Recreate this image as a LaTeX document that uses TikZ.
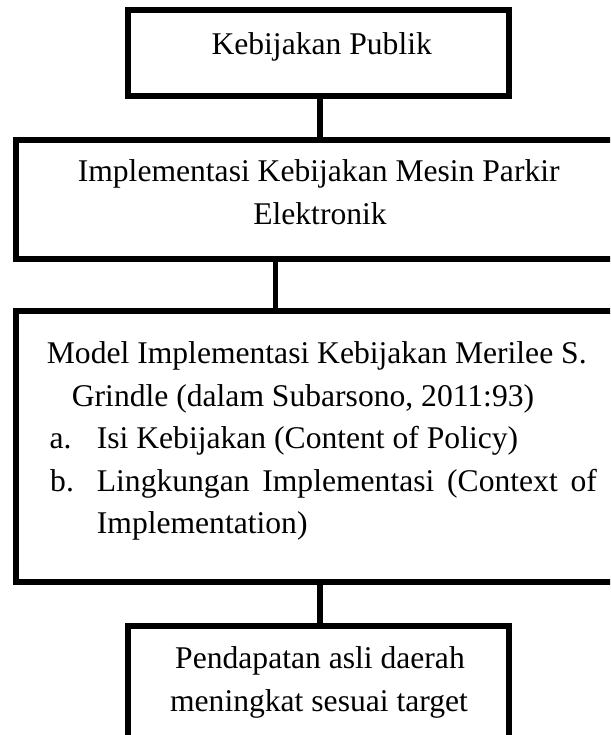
\documentclass[tikz,border=0pt]{standalone}
\usepackage{fontspec}
\setmainfont{Liberation Serif}
\begin{document}
\begin{tikzpicture}[x=1pt,y=-1pt,
  box/.style={draw=black,line width=6pt,fill=none,rectangle,inner sep=0pt},
  conn/.style={draw=black,line width=5.5pt},
  txt/.style={inner sep=0pt,font=\fontsize{31.6pt}{43pt}\selectfont}]
\useasboundingbox (0,0) rectangle (610,735);
\clip (0,0) rectangle (610,735);
% boxes
\node[box,minimum width=380.5pt,minimum height=86pt] (b1) at (318.25,53) {};
\node[box,minimum width=609pt,minimum height=119pt] (b2) at (320.5,199.5) {};
\node[box,minimum width=609pt,minimum height=271pt] (b3) at (320.5,446.5) {};
\node[box,minimum width=380.5pt,minimum height=124pt] (b4) at (318.25,688) {};
% connectors
\draw[conn] ([xshift=1.75pt]b1.south) -- ([xshift=1.75pt]b1.south |- b2.north);
\draw[conn] ([xshift=-45pt]b2.south) -- ([xshift=-45pt]b2.south |- b3.north);
\draw[conn] ([xshift=-0.5pt]b3.south) -- ([xshift=-0.5pt]b3.south |- b4.north);
% texts
\node[txt,anchor=base] (t1) at (321.7,55) {Kebijakan Publik};
\node[txt,anchor=base] (t2a) at (318.7,181.7) {Implementasi Kebijakan Mesin Parkir};
\node[txt,anchor=base] (t2b) at (320,225) {Elektronik};
\node[txt,anchor=base west] (t3a) at (46.7,363.5) {Model Implementasi Kebijakan Merilee S.};
\node[txt,anchor=base west] (t3b) at (71.7,406) {Grindle (dalam Subarsono, 2011:93)};
\node[txt,anchor=base west] (la) at (49.3,448.5) {a.};
\node[txt,anchor=base west] (t3c) at (96.7,448.5) {Isi Kebijakan (Content of Policy)};
\node[txt,anchor=base west] (lb) at (50,491) {b.};
\node[txt,anchor=base west] (t3d) at (96.7,491) {\makebox[500pt][s]{Lingkungan Implementasi (Context of}};
\node[txt,anchor=base west] (t3e) at (96.7,533.5) {Implementation)};
\node[txt,anchor=base] (t4a) at (320,668) {Pendapatan asli daerah};
\node[txt,anchor=base] (t4b) at (319,711) {meningkat sesuai target};
\end{tikzpicture}
\end{document}
